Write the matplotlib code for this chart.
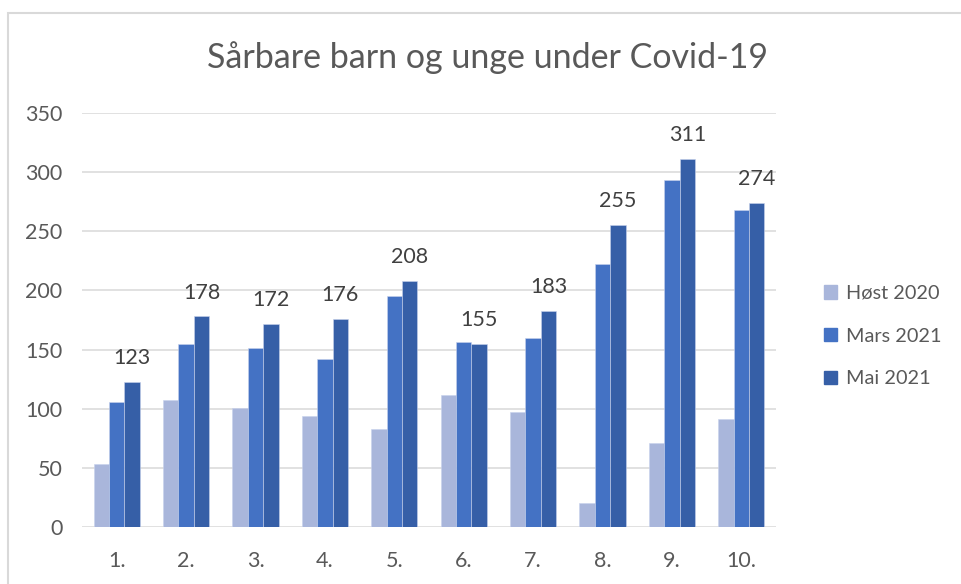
import matplotlib
matplotlib.use("Agg")
import matplotlib.pyplot as plt
from matplotlib.patches import Rectangle, Patch
import numpy as np

categories = ["1.", "2.", "3.", "4.", "5.", "6.", "7.", "8.", "9.", "10."]
series_names = ["Høst 2020", "Mars 2021", "Mai 2021"]
host_2020 = [53, 107, 101, 94, 83, 112, 97, 20, 71, 91]
mars_2021 = [106, 155, 151, 142, 195, 156, 160, 222, 293, 268]
mai_2021 = [123, 178, 172, 176, 208, 155, 183, 255, 311, 274]
yticks = [0, 50, 100, 150, 200, 250, 300, 350]
title = "Sårbare barn og unge under Covid-19"

colors = ["#A9B6DB", "#4472C4", "#365FA7"]
FONT = ["Lato", "DejaVu Sans"]
plt.rcParams["font.family"] = FONT

fig = plt.figure(figsize=(9.61, 5.84), dpi=100)
W, H = 961, 584
# chart border
fig.patches.append(Rectangle((8 / W, -0.1), 1.2, 1 - 13 / H + 0.1, transform=fig.transFigure,
                             fill=False, edgecolor="#D9D9D9", linewidth=1.5))

ax = fig.add_axes([82 / W, (H - 527) / H, (776 - 82) / W, (527 - 113) / H])
x = np.arange(len(categories))
bw = 1 / 4.5
series = [host_2020, mars_2021, mai_2021]
for i, (vals, c, name) in enumerate(zip(series, colors, series_names)):
    ax.bar(x + (i - 1) * bw, vals, width=bw, color=c, edgecolor="#C8D2EC", linewidth=0.4,
           label=name, zorder=3)

for xi, v in zip(x, mai_2021):
    ax.annotate(str(v), (xi + bw, v), xytext=(0, 10), textcoords="offset points",
                ha="center", va="bottom", fontsize=15.5, color="#404040")

ax.set_xlim(-0.5, len(categories) - 0.5)
ax.set_ylim(0, 350)
ax.set_yticks(yticks)
ax.set_xticks(x)
ax.set_xticklabels(categories)
ax.grid(axis="y", color="#D9D9D9", linewidth=1.1, zorder=0)
for s in ax.spines.values():
    s.set_visible(False)
ax.tick_params(axis="both", length=0, labelsize=15.5, colors="#595959")
ax.tick_params(axis="y", pad=14)
ax.tick_params(axis="x", pad=17)

fig.text(488 / W, 1 - 58 / H, title, ha="center", va="center", fontsize=24.5, color="#595959")

handles = [Patch(facecolor=c, edgecolor=c) for c in colors]
leg = fig.legend(handles, series_names, loc="center left", bbox_to_anchor=(806 / W, 1 - 336 / H),
                 frameon=False, fontsize=14.3, handlelength=0.68, handleheight=0.68,
                 handletextpad=0.45, labelspacing=1.3, labelcolor="#595959")

fig.savefig("out.png", dpi=100, facecolor="white")
